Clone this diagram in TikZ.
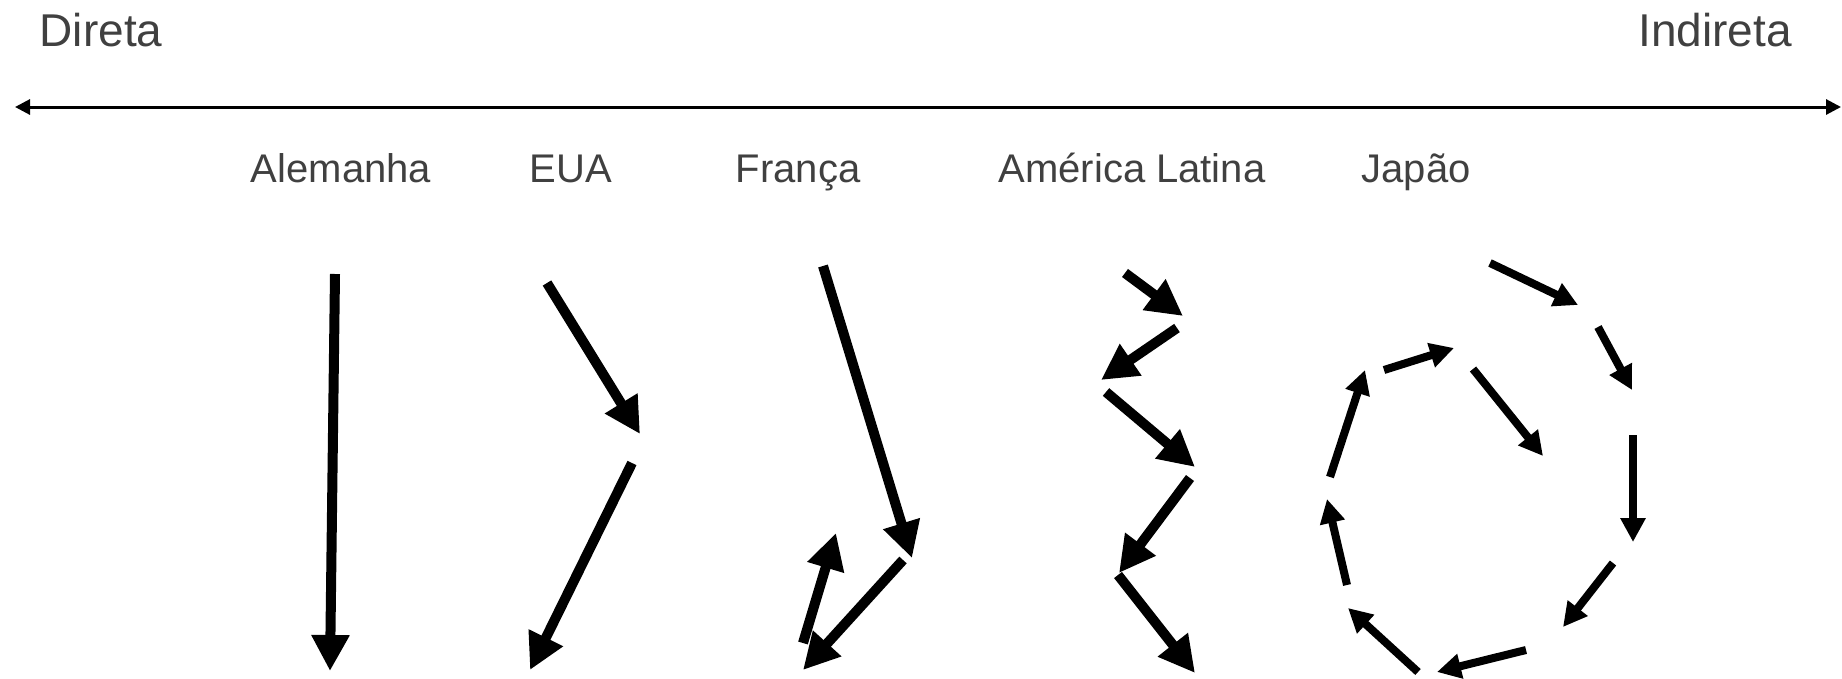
\documentclass[tikz,border=0pt]{standalone}
\usepackage{fontspec}
\setmainfont{Liberation Sans}
\usetikzlibrary{arrows.meta}
\definecolor{labeltext}{HTML}{404040}
\begin{document}
\begin{tikzpicture}[x=1pt,y=-1pt,
  heavy/.style={line width=10pt,-{Triangle[length=36pt,width=36pt]}},
  spiralarrow/.style={line width=8pt,-{Triangle[length=24pt,width=24pt]}},
  axisline/.style={line width=3pt,{Triangle[length=15pt,width=15pt]}-{Triangle[length=15pt,width=15pt]}},
  pole/.style={font=\fontsize{46}{52}\selectfont,text=labeltext,inner sep=0pt,anchor=base west},
  country/.style={font=\fontsize{40}{46}\selectfont,text=labeltext,inner sep=0pt,anchor=base},
]
\useasboundingbox (0,0) rectangle (1842,678);

% scale: direct to indirect
\node[pole] (direta) at (39.5,46) {Direta};
\node[pole] (indireta) at (1638,46) {Indireta};
\coordinate (axisL) at (15,107);
\coordinate (axisR) at (1841,107);
\draw[axisline] (axisL) -- (axisR);

% country headings
\node[country] (alemanha) at (341,182) {Alemanha};
\node[country] (eua) at (571,182) {EUA};
\node[country] (franca) at (798,182) {França};
\node[country] (latam) at (1132,182) {América Latina};
\node[country] (japao) at (1416,182) {Japão};

% Alemanha: one straight path
\coordinate (de0) at (335,274);
\coordinate (de1) at (330,671);
\draw[heavy] (de0) -- (de1);

% EUA: two legs
\coordinate (us0) at (547,283);
\coordinate (us1) at (640,434);
\coordinate (us2) at (632,463);
\coordinate (us3) at (530,670);
\draw[heavy] (us0) -- (us1);
\draw[heavy] (us2) -- (us3);

% França: down, back, then up again
\coordinate (fr0) at (823,266);
\coordinate (fr1) at (912,558);
\coordinate (fr2) at (903,560);
\coordinate (fr3) at (803,670);
\coordinate (fr4) at (803,643);
\coordinate (fr5) at (836,533);
\draw[heavy] (fr0) -- (fr1);
\draw[heavy] (fr2) -- (fr3);
\draw[heavy] (fr4) -- (fr5);

% América Latina: zig-zag
\coordinate (la0) at (1125,273);
\coordinate (la1) at (1183,316);
\coordinate (la2) at (1177,328);
\coordinate (la3) at (1101,380);
\coordinate (la4) at (1106,392);
\coordinate (la5) at (1195,467);
\coordinate (la6) at (1190,478);
\coordinate (la7) at (1119,573);
\coordinate (la8) at (1118,575);
\coordinate (la9) at (1195,673);
\draw[heavy] (la0) -- (la1);
\draw[heavy] (la2) -- (la3);
\draw[heavy] (la4) -- (la5);
\draw[heavy] (la6) -- (la7);
\draw[heavy] (la8) -- (la9);

% Japão: spiral of short arrows
\coordinate (jp1s) at (1490,263);  \coordinate (jp1e) at (1578,305);
\coordinate (jp2s) at (1598,327);  \coordinate (jp2e) at (1632,390);
\coordinate (jp3s) at (1633,435);  \coordinate (jp3e) at (1633,542);
\coordinate (jp4s) at (1613,563);  \coordinate (jp4e) at (1563,627);
\coordinate (jp5s) at (1526,650);  \coordinate (jp5e) at (1437,672);
\coordinate (jp6s) at (1418,672);  \coordinate (jp6e) at (1348,608);
\coordinate (jp7s) at (1347,585);  \coordinate (jp7e) at (1327,499);
\coordinate (jp8s) at (1330,477);  \coordinate (jp8e) at (1365,370);
\coordinate (jp9s) at (1384,370);  \coordinate (jp9e) at (1454,348);
\coordinate (jp10s) at (1473,369); \coordinate (jp10e) at (1543,456);
\foreach \i in {1,...,10}
  \draw[spiralarrow] (jp\i s) -- (jp\i e);
\end{tikzpicture}
\end{document}
